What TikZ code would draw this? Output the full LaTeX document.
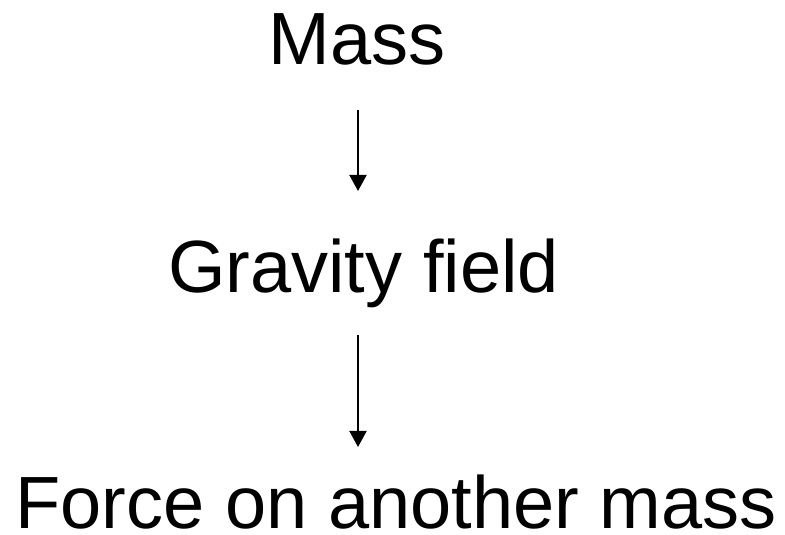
\documentclass[tikz,border=0pt]{standalone}
\usepackage{fontspec}
\setmainfont{Liberation Sans}
\usetikzlibrary{arrows.meta}
\begin{document}
\begin{tikzpicture}[x=1pt,y=1pt,
  lbl/.style={anchor=base,inner sep=0pt,font=\fontsize{74}{80}\selectfont},
  arr/.style={line width=2pt,-{Triangle[length=16pt,width=17pt]}}]
\useasboundingbox (0,0) rectangle (785,535);
\node[lbl] (mass) at (357,470) {Mass};
\node[lbl] (grav) at (363.5,242) {Gravity field};
\node[lbl] (force) at (396,6) {Force on another mass};
\coordinate (a1s) at (358,425);
\coordinate (a1e) at (358,344);
\coordinate (a2s) at (358,200);
\coordinate (a2e) at (358,88);
\draw[arr] (a1s) -- (a1e);
\draw[arr] (a2s) -- (a2e);
\end{tikzpicture}
\end{document}
